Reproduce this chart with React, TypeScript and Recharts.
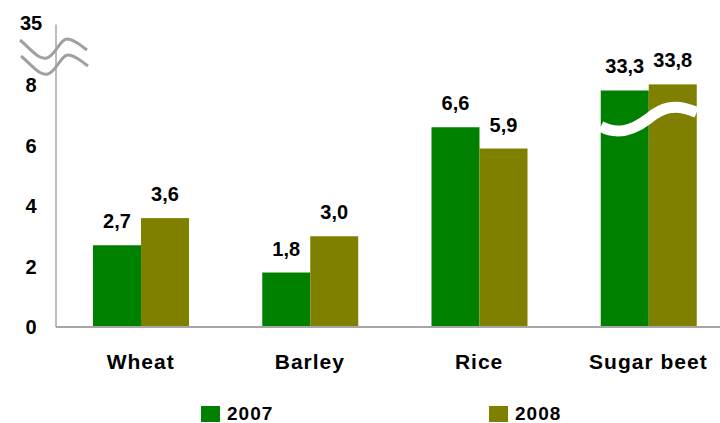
import { BarChart, Bar, XAxis, YAxis, LabelList, Legend } from "recharts";

const CROPS = ["Wheat", "Barley", "Rice", "Sugar beet"];
const Y2007 = [2.7, 1.8, 6.6, 33.3];
const Y2008 = [3.6, 3.0, 5.9, 33.8];
const Y_TICKS = [0, 2, 4, 6, 8, 10];

const GREEN = "#008000";
const OLIVE = "#808000";
const AXIS = "#a6a6a6";
const FONT = "'Liberation Sans', Arial, sans-serif";

// values above the axis break are squeezed: 30..35 is drawn on 6.5..8.5
const BREAK_LIMIT = 8;
const squeeze = (v: number) => (v > BREAK_LIMIT ? 6.5 + (v - 30) * 0.4 : v);

const data = CROPS.map((crop, i) => ({
  crop,
  y2007: Y2007[i],
  y2008: Y2008[i],
  p2007: squeeze(Y2007[i]),
  p2008: squeeze(Y2008[i]),
}));

const fmt = (v: number) => v.toFixed(1).replace(".", ",");

const wavePath = (pts: number[][], dx: number, dy: number) => {
  const [s, ...rest] = pts;
  let d = `M${s[0] + dx},${s[1] + dy}`;
  for (let i = 0; i < rest.length; i += 3) {
    d += ` C${rest[i][0] + dx},${rest[i][1] + dy} ${rest[i + 1][0] + dx},${rest[i + 1][1] + dy} ${rest[i + 2][0] + dx},${rest[i + 2][1] + dy}`;
  }
  return d;
};

// axis break marks, relative to the top tick position
const AXIS_WAVE = [
  [-36, 15.5],
  [-24, 25.5], [-18, 35.5], [-9, 33.5],
  [-1, 31.5], [4, 14.5], [11, 14.5],
  [18, 14.5], [24, 20.5], [31, 25.5],
];

const YTick = (props: any) => {
  const { x, y, payload } = props;
  const top = payload.value === 10;
  return (
    <g>
      <text
        x={x - 25}
        y={y + (top ? 5 : 7)}
        textAnchor="middle"
        fontFamily={FONT}
        fontWeight="bold"
        fontSize={20}
        fill="#000"
      >
        {top ? "35" : payload.value}
      </text>
      {top && (
        <g fill="none" stroke="#a0a0a0" strokeWidth={3}>
          <path d={wavePath(AXIS_WAVE, x, y)} />
          <path d={wavePath(AXIS_WAVE, x + 1, y + 16)} />
        </g>
      )}
    </g>
  );
};

const XTick = (props: any) => {
  const { x, y, payload } = props;
  return (
    <text
      x={x}
      y={y + 42}
      textAnchor="middle"
      fontFamily={FONT}
      fontWeight="bold"
      fontSize={21}
      letterSpacing={1}
      fill="#000"
    >
      {payload.value}
    </text>
  );
};

const BrokenBar = (props: any) => {
  const { x, y, width, height, fill, payload } = props;
  const broken = payload && payload.y2008 > BREAK_LIMIT;
  const w = width;
  return (
    <g>
      <rect x={x} y={y} width={width} height={height} fill={fill} />
      {broken && (
        <path
          d={`M${x - w},${y + 42} C${x - w + 15},${y + 50} ${x - w + 30},${y + 48} ${x},${y + 34} C${x + 12},${y + 24} ${x + 25},${y + 18} ${x + w},${y + 28}`}
          fill="none"
          stroke="#fff"
          strokeWidth={11}
        />
      )}
    </g>
  );
};

const LegendBox = () => (
  <div style={{ position: "relative", height: 36, fontFamily: FONT }}>
    {[
      { label: "2007", color: GREEN, left: 201 },
      { label: "2008", color: OLIVE, left: 489 },
    ].map((it) => (
      <div
        key={it.label}
        style={{ position: "absolute", left: it.left, top: 19, display: "flex", alignItems: "center" }}
      >
        <span style={{ width: 19, height: 16, background: it.color, display: "inline-block" }} />
        <span style={{ marginLeft: 7, fontSize: 19, fontWeight: "bold", letterSpacing: 1, lineHeight: "16px" }}>
          {it.label}
        </span>
      </div>
    ))}
  </div>
);

export default function App() {
  return (
    <div style={{ position: "absolute", left: 0, top: 0, width: 720, height: 423, overflow: "hidden", background: "#fff" }}>
      <BarChart
        width={740}
        height={423}
        data={data}
        margin={{ top: 24.5, right: 7, left: 0, bottom: 0 }}
        barGap={0}
        barSize={48}
      >
        <YAxis
          width={56}
          domain={[0, 10]}
          ticks={Y_TICKS}
          interval={0}
          tickSize={0}
          tickMargin={0}
          tickLine={false}
          axisLine={{ stroke: AXIS, strokeWidth: 1.5 }}
          tick={<YTick />}
        />
        <XAxis
          dataKey="crop"
          height={60}
          tickSize={0}
          tickMargin={0}
          tickLine={false}
          axisLine={{ stroke: AXIS, strokeWidth: 2 }}
          tick={<XTick />}
        />
        <Legend verticalAlign="bottom" height={36} content={<LegendBox />} />
        <Bar dataKey="p2007" fill={GREEN} isAnimationActive={false}>
          <LabelList
            dataKey="y2007"
            position="top"
            offset={17}
            formatter={(v: any) => fmt(Number(v))}
            style={{ fill: "#000", fontFamily: FONT, fontWeight: "bold", fontSize: 20 }}
          />
        </Bar>
        <Bar dataKey="p2008" fill={OLIVE} isAnimationActive={false} shape={<BrokenBar />}>
          <LabelList
            dataKey="y2008"
            position="top"
            offset={17}
            formatter={(v: any) => fmt(Number(v))}
            style={{ fill: "#000", fontFamily: FONT, fontWeight: "bold", fontSize: 20 }}
          />
        </Bar>
      </BarChart>
    </div>
  );
}
